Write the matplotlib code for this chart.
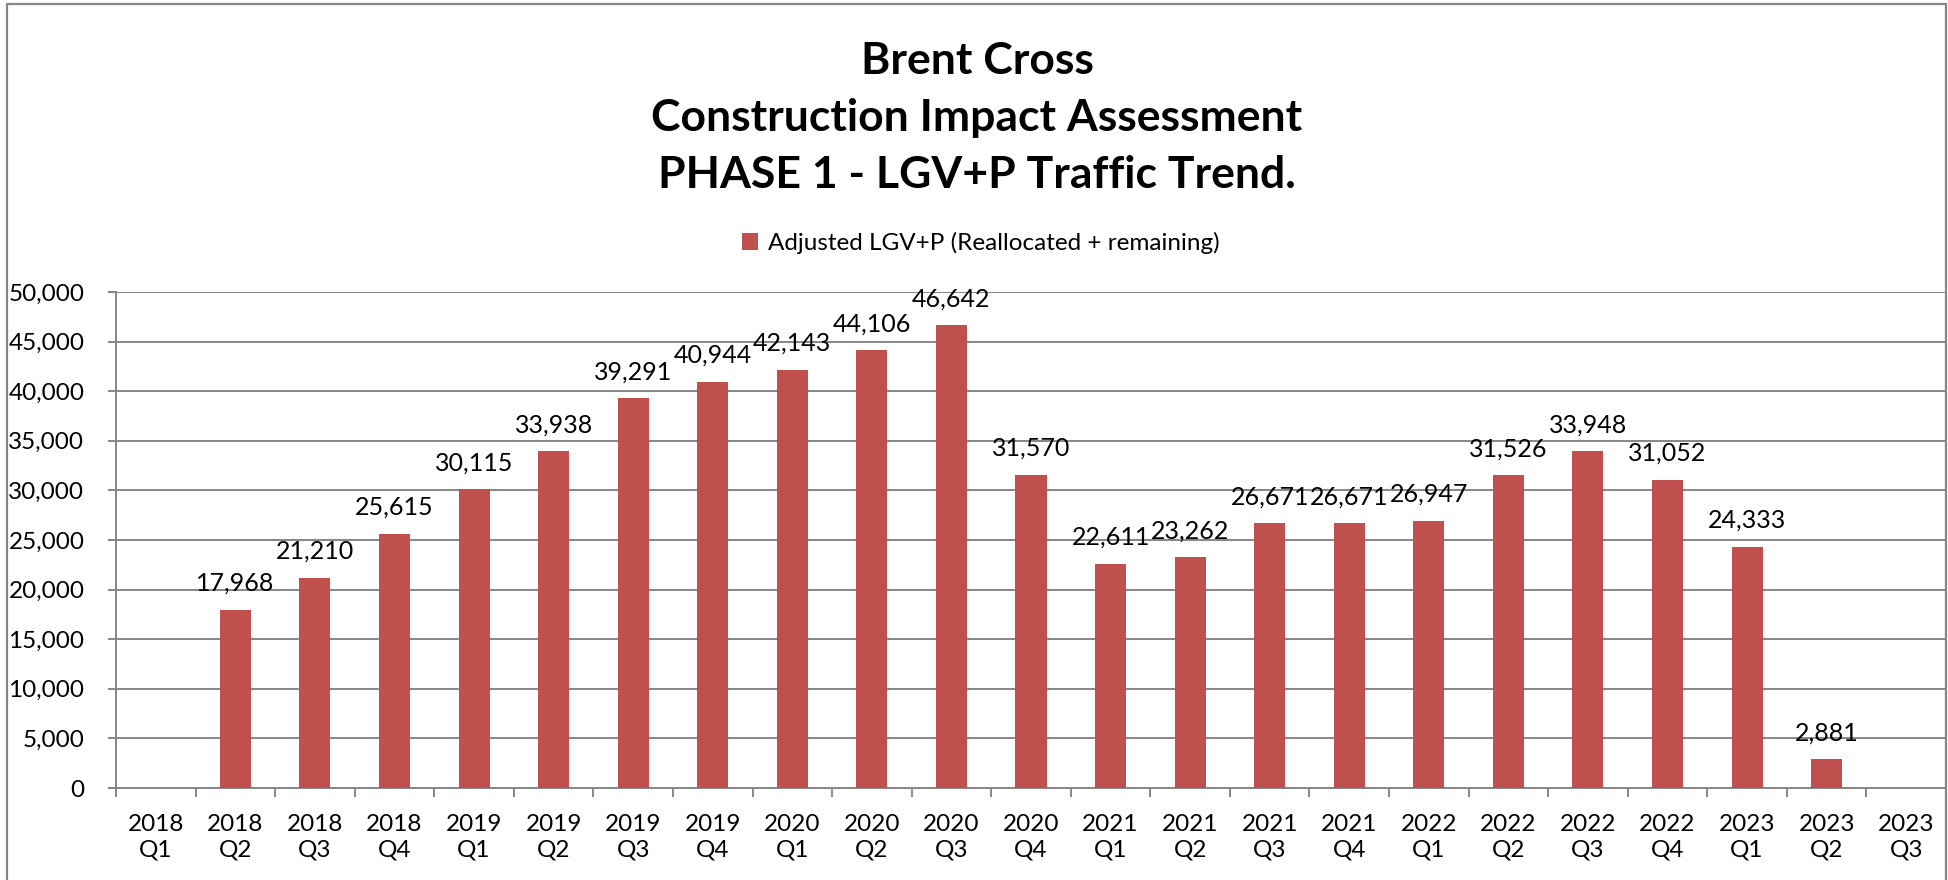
import matplotlib
matplotlib.use("Agg")
import matplotlib.pyplot as plt
from matplotlib.patches import Rectangle
from matplotlib.ticker import FuncFormatter, MultipleLocator
import numpy as np

plt.rcParams['font.family'] = ['Lato', 'DejaVu Sans']

categories = ["2018\nQ1", "2018\nQ2", "2018\nQ3", "2018\nQ4",
              "2019\nQ1", "2019\nQ2", "2019\nQ3", "2019\nQ4",
              "2020\nQ1", "2020\nQ2", "2020\nQ3", "2020\nQ4",
              "2021\nQ1", "2021\nQ2", "2021\nQ3", "2021\nQ4",
              "2022\nQ1", "2022\nQ2", "2022\nQ3", "2022\nQ4",
              "2023\nQ1", "2023\nQ2", "2023\nQ3"]
values = [None, 17968, 21210, 25615, 30115, 33938, 39291, 40944, 42143, 44106,
          46642, 31570, 22611, 23262, 26671, 26671, 26947, 31526, 33948, 31052,
          24333, 2881, None]
series_name = "Adjusted LGV+P (Reallocated + remaining)"
title_lines = ["Brent Cross", "Construction Impact Assessment",
               "PHASE 1 - LGV+P Traffic Trend."]

W, H = 1949, 880
fig = plt.figure(figsize=(W / 100, H / 100), dpi=100)
fig.patch.set_facecolor('white')

grey = '#868686'
bar_color = '#C0504D'

left, right, top, bottom = 116, 1946, 292, 788
ax = fig.add_axes([left / W, (H - bottom) / H, (right - left) / W, (bottom - top) / H])

x = np.arange(len(categories))
vals = [np.nan if v is None else v for v in values]
bars = ax.bar(x, vals, width=0.39, color=bar_color, label=series_name, zorder=3)

for xi, v in zip(x, values):
    if v is None:
        continue
    ax.annotate(f"{v:,}", (xi, v), xytext=(0, 19), textcoords='offset pixels',
                ha='center', va='baseline', fontsize=18, color='black', zorder=4)

ax.set_xlim(-0.5, len(categories) - 0.5)
ax.set_ylim(0, 50000)
ax.yaxis.set_major_locator(MultipleLocator(5000))
ax.yaxis.set_major_formatter(FuncFormatter(lambda v, p: f"{int(v):,}"))
ax.grid(axis='y', color=grey, linewidth=1.4, zorder=0)
ax.set_axisbelow(True)

ax.set_xticks(x)
ax.set_xticklabels(categories, fontsize=17.5, linespacing=1.25)
ax.set_xticks(np.arange(-0.5, len(categories), 1.0), minor=True)
ax.tick_params(axis='x', which='major', length=0, pad=19)
ax.tick_params(axis='x', which='minor', length=9 * 0.72, width=1.4, color=grey)
ax.tick_params(axis='y', which='major', length=8 * 0.72, width=1.4, color=grey,
               labelsize=17.5, pad=17)

for s in ['top', 'right']:
    ax.spines[s].set_visible(False)
for s in ['left', 'bottom']:
    ax.spines[s].set_color(grey)
    ax.spines[s].set_linewidth(1.4)

# chart border
fig.patches.append(Rectangle((7 / W, -0.02), (1946 - 7) / W, 1 - 4 / H + 0.02,
                             transform=fig.transFigure, fill=False,
                             edgecolor=grey, linewidth=1.6, zorder=10))

fig.text(977 / W, 1 - 118 / H, "\n".join(title_lines), ha='center', va='center',
         fontsize=32, fontweight='bold', linespacing=1.5)

leg = fig.legend(handles=[bars], labels=[series_name], loc='center',
                 bbox_to_anchor=(981 / W, 1 - 243 / H), frameon=False,
                 fontsize=17.5, handlelength=0.65, handleheight=0.65, handletextpad=0.4)

fig.savefig("out.png", dpi=100, facecolor='white')
